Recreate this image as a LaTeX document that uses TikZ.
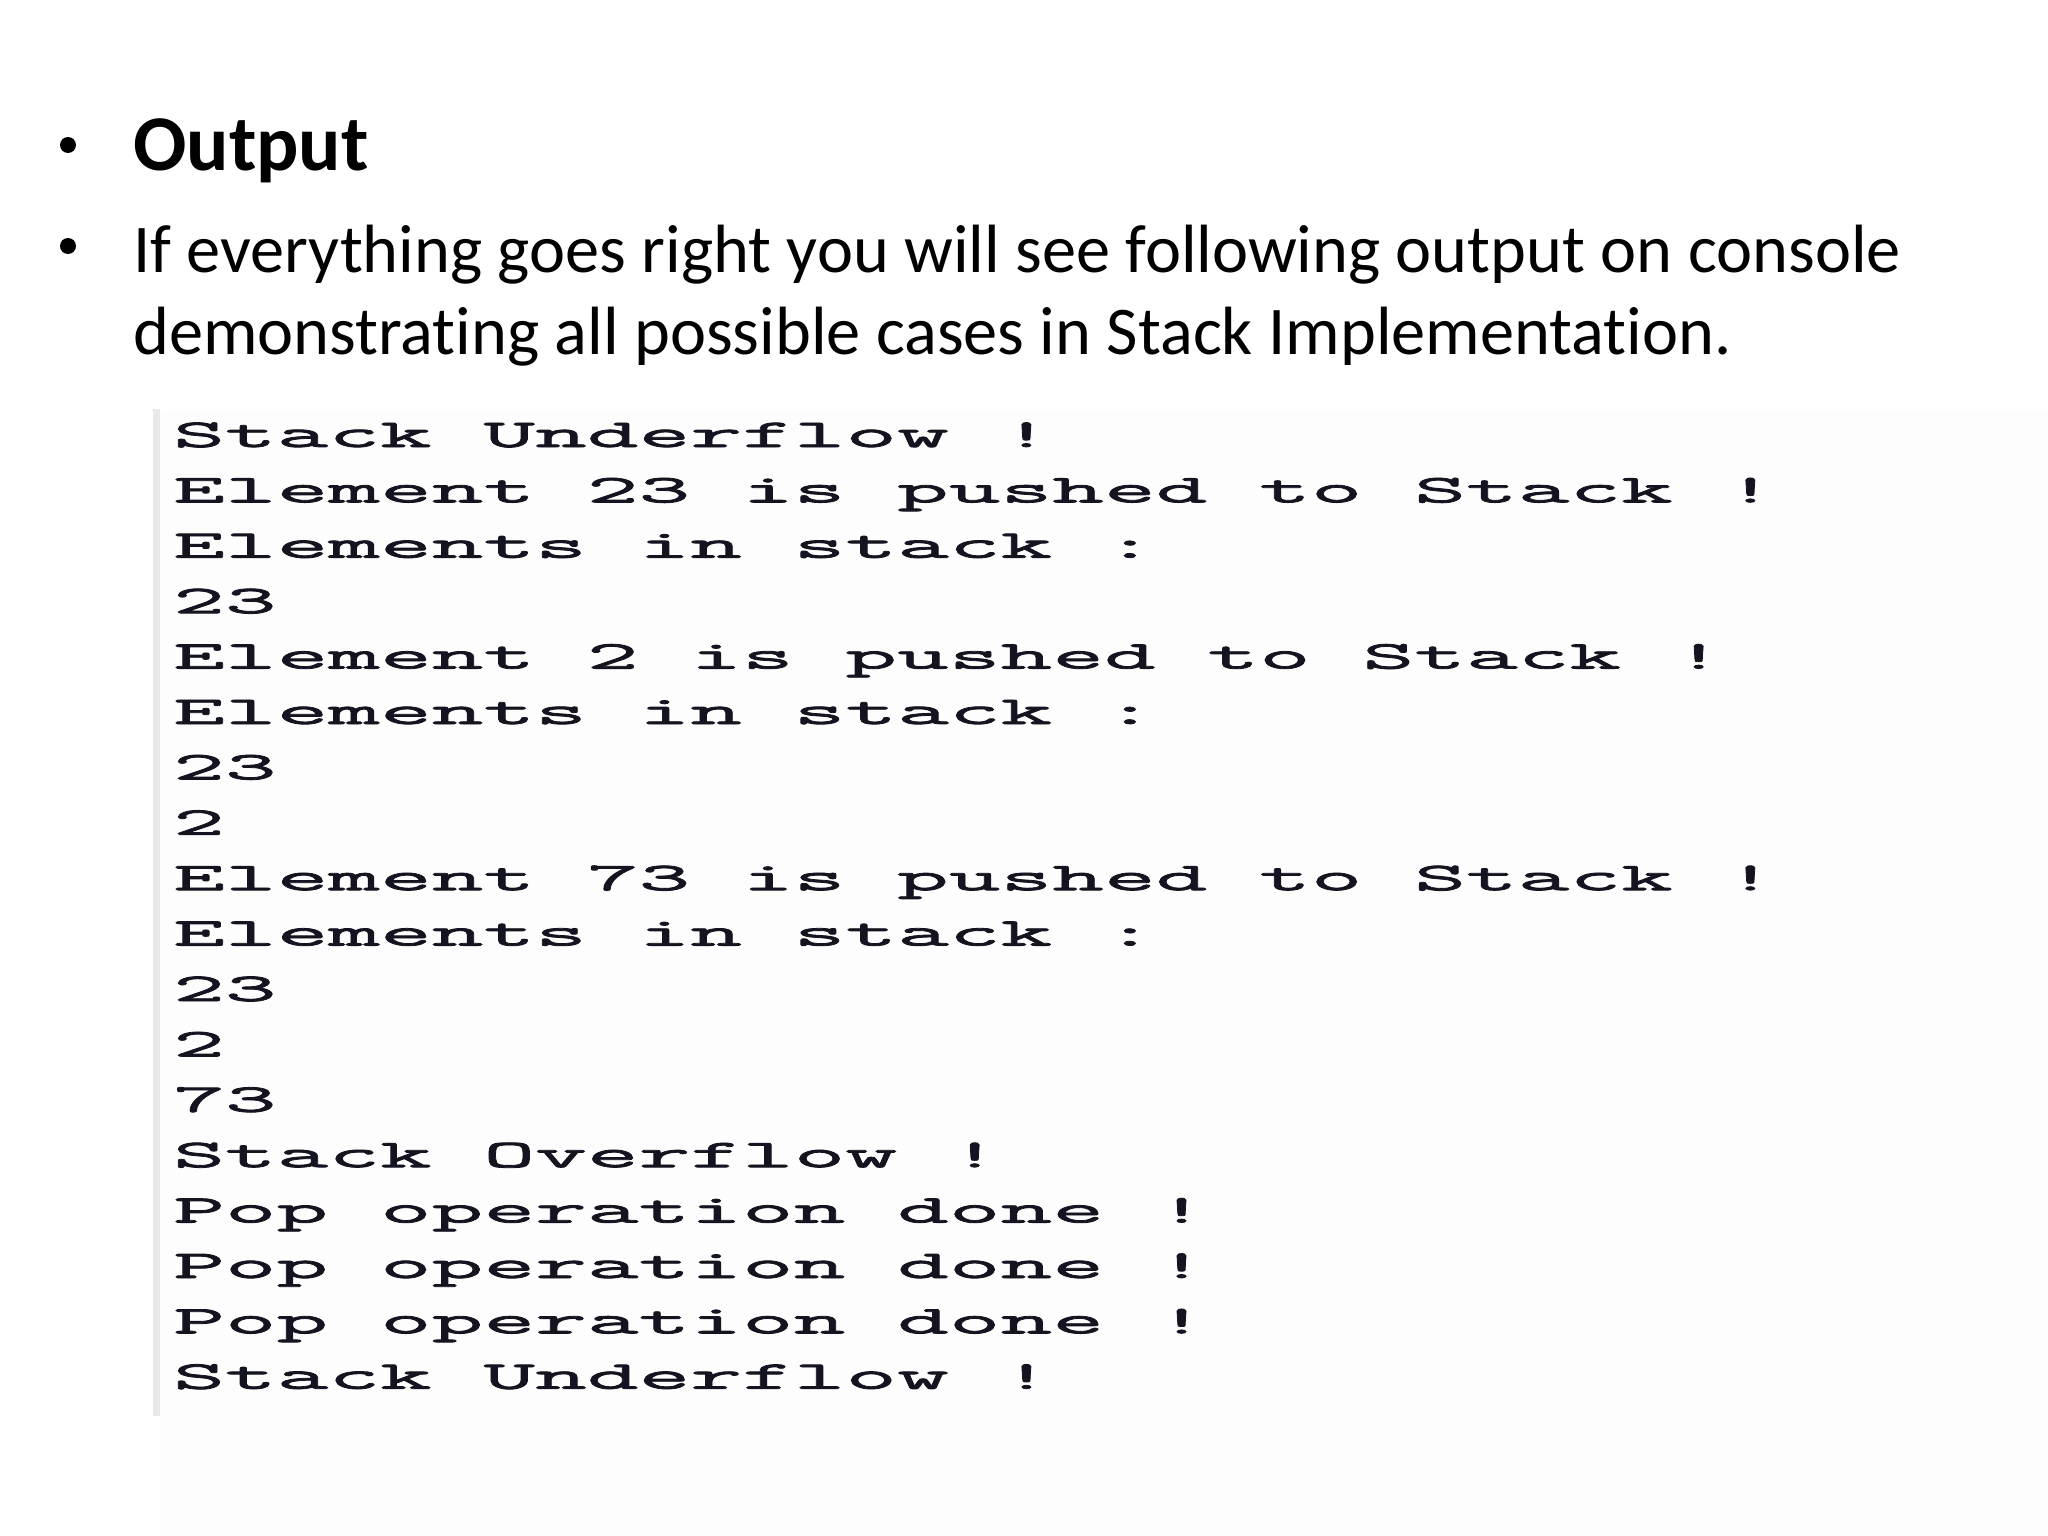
\documentclass[tikz,border=0pt]{standalone}
\usepackage{fontspec}
\setmainfont{Carlito}[Ligatures=NoCommon]
\newfontfamily\confont[FakeStretch=2.555,FakeBold=2]{Latin Modern Mono}
\definecolor{consolebg}{HTML}{FDFDFD}
\definecolor{bargray}{HTML}{E9E9E9}
\definecolor{context}{HTML}{141420}
\tikzset{
  bulletdot/.style={circle, fill=black, minimum size=16pt, inner sep=0pt},
  titletext/.style={anchor=base west, inner sep=0pt, font=\fontsize{79}{90}\selectfont\bfseries},
  bodytext/.style={anchor=base west, inner sep=0pt, font=\fontsize{68.3}{80}\selectfont},
  conline/.style={anchor=base west, inner sep=0pt, text=context, font=\confont\fontsize{39.3}{45}\selectfont}
}
\begin{document}
\begin{tikzpicture}[x=1pt,y=-1pt]
\useasboundingbox (0,0) rectangle (2048,1536);
\fill[white] (0,0) rectangle (2048,1536);
% console screenshot area
\fill[consolebg] (161,410) rectangle (2048,1536);
\fill[bargray] (153,409) rectangle (160,1416);
% heading
\node[bulletdot] (b1) at (68,145) {};
\node[titletext] (title) at (133,171) {Output};
\node[bulletdot] (b2) at (68,246) {};
\node[bodytext] (body1) at (133,272) {If everything goes right you will see following output on console};
\node[bodytext] (body2) at (133,354) {demonstrating all possible cases in Stack Implementation.};
% console lines
\foreach \txt [count=\i from 0] in {
  Stack Underflow !,
  Element 23 is pushed to Stack !,
  Elements in stack :,
  23,
  Element 2 is pushed to Stack !,
  Elements in stack :,
  23,
  2,
  Element 73 is pushed to Stack !,
  Elements in stack :,
  23,
  2,
  73,
  Stack Overflow !,
  Pop operation done !,
  Pop operation done !,
  Pop operation done !,
  Stack Underflow !}
{
  \node[conline] (line\i) at (173,{447+55.4*\i}) {\txt};
}
\end{tikzpicture}
\end{document}
